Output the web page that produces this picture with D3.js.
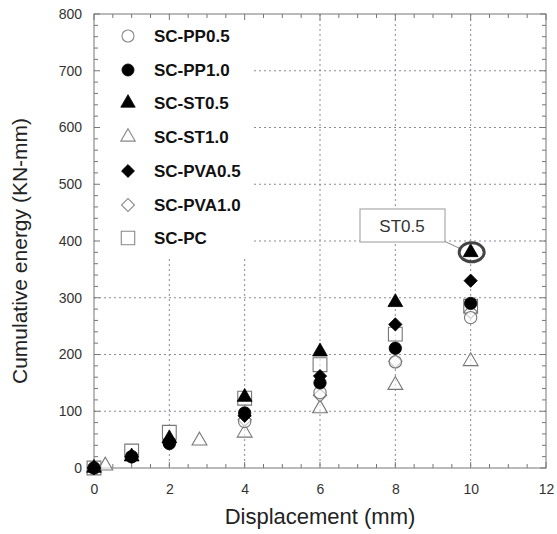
<!DOCTYPE html>
<html><head><meta charset="utf-8">
<script src="https://cdn.jsdelivr.net/npm/d3@7"></script>
<style>body{margin:0;background:#fff}svg{display:block;font-family:Arial,"Liberation Sans",sans-serif}</style>
</head><body><svg id="c" width="557" height="534"></svg>
<script>
const seriesNames = ["SC-PP0.5","SC-PP1.0","SC-ST0.5","SC-ST1.0","SC-PVA0.5","SC-PVA1.0","SC-PC"];
const dispMain = [0,1,2,4,6,8,10];
const dispST10 = [0.3,2.8,4,6,8,10];
const ppHalf   = [0,20,45,82,133,187,265];
const ppOne    = [0,20,43,97,150,211,290];
const stHalf   = [0,20,52,125,205,292,380];
const stOne    = [4,48,62,105,146,188];
const pvaHalf  = [0,20,48,92,162,253,330];
const pvaOne   = [0,20,45,85,128,188,275];
const pc       = [0,30,63,123,182,236,285];
const xTicks = [0,2,4,6,8,10,12];
const yTicks = [0,100,200,300,400,500,600,700,800];

const series = [
  {name:seriesNames[0], xs:dispMain, ys:ppHalf, shape:"circle", fill:false},
  {name:seriesNames[1], xs:dispMain, ys:ppOne, shape:"circle", fill:true},
  {name:seriesNames[2], xs:dispMain, ys:stHalf, shape:"triangle", fill:true},
  {name:seriesNames[3], xs:dispST10, ys:stOne, shape:"triangle", fill:false},
  {name:seriesNames[4], xs:dispMain, ys:pvaHalf, shape:"diamond", fill:true},
  {name:seriesNames[5], xs:dispMain, ys:pvaOne, shape:"diamond", fill:false},
  {name:seriesNames[6], xs:dispMain, ys:pc, shape:"square", fill:false}
];
const drawOrder = [6,3,5,0,4,1,2];

const svg = d3.select("#c");
const L=94, R=546, T=14, B=468;
const x = d3.scaleLinear().domain([0,12]).range([L,R]);
const y = d3.scaleLinear().domain([0,800]).range([B,T]);

const sym = {circle:d3.symbolCircle, triangle:d3.symbolTriangle, diamond:d3.symbolSquare, square:d3.symbolSquare};
const sizes = {circle:120, triangle:95, diamond:88, square:190};
function marker(g, s, scale){
  const gen = d3.symbol().type(sym[s.shape]).size(sizes[s.shape]*(scale||1));
  let p = g.append("path").attr("d", gen());
  if (s.shape==="diamond") p.attr("transform","rotate(45)");
  if (s.fill) p.attr("fill","#000").attr("stroke","#000").attr("stroke-width",0.8);
  else p.attr("fill","#fff").attr("fill-opacity",0.6).attr("stroke","#777").attr("stroke-width",1.1);
  return p;
}

const grid = svg.append("g").attr("stroke","#8a8a9a").attr("stroke-width",1).attr("stroke-dasharray","2,3");
[2,4,6,8,10].forEach(v=>grid.append("line").attr("x1",x(v)).attr("x2",x(v)).attr("y1",T).attr("y2",B));
[100,200,300,400,500,600,700].forEach(v=>grid.append("line").attr("x1",L).attr("x2",R).attr("y1",y(v)).attr("y2",y(v)));

svg.append("rect").attr("x",L+1).attr("y",T+1).attr("width",156).attr("height",242).attr("fill","#fff");

const ax = svg.append("g").attr("stroke","#777").attr("stroke-width",1);
ax.append("rect").attr("x",L).attr("y",T).attr("width",R-L).attr("height",B-T).attr("fill","none");
d3.range(0,12.01,0.5).forEach(v=>{
  const len = (v%2===0)?6:4;
  ax.append("line").attr("x1",x(v)).attr("x2",x(v)).attr("y1",B).attr("y2",B-len);
  ax.append("line").attr("x1",x(v)).attr("x2",x(v)).attr("y1",T).attr("y2",T+len);
});
d3.range(0,800.1,20).forEach(v=>{
  const len = (v%100===0)?6:4;
  ax.append("line").attr("x1",L).attr("x2",L+len).attr("y1",y(v)).attr("y2",y(v));
  ax.append("line").attr("x1",R).attr("x2",R-len).attr("y1",y(v)).attr("y2",y(v));
});

const xAxis = svg.append("g").attr("transform",`translate(0,${B})`)
  .call(d3.axisBottom(x).tickValues(xTicks).tickSize(0).tickPadding(16).tickFormat(d3.format("d")));
const yAxis = svg.append("g").attr("transform",`translate(${L},0)`)
  .call(d3.axisLeft(y).tickValues(yTicks).tickSize(0).tickPadding(12).tickFormat(d3.format("d")));
[xAxis,yAxis].forEach(a=>{a.select(".domain").remove(); a.selectAll("text").attr("font-size",14).attr("fill","#333").attr("font-family","Arial, 'Liberation Sans', sans-serif");});

svg.append("text").attr("x",320).attr("y",524).attr("text-anchor","middle").attr("font-size",22).attr("fill","#222").text("Displacement (mm)");
svg.append("text").attr("transform",`translate(27,${(T+B)/2+10}) rotate(-90)`).attr("text-anchor","middle").attr("font-size",21).attr("fill","#222").text("Cumulative energy (KN-mm)");

const pts = svg.append("g");
drawOrder.forEach(i=>{
  const s = series[i];
  s.xs.forEach((xv,j)=>{
    const g = pts.append("g").attr("transform",`translate(${x(xv)},${y(s.ys[j])})`);
    marker(g,s);
  });
});

const leg = svg.append("g");
const rowsY = [36,70,103,137,171,205,238];
series.forEach((s,i)=>{
  const g = leg.append("g").attr("transform",`translate(128,${rowsY[i]})`);
  const p = marker(g,s,0.95);
  if(!s.fill) p.attr("fill-opacity",1).attr("stroke","#888");
  leg.append("text").attr("x",154).attr("y",rowsY[i]+6).attr("font-size",17).attr("font-weight","bold").attr("fill","#111").text(s.name);
});

const ax10 = x(10), ay10 = y(stHalf[6]);
svg.append("line").attr("x1",444).attr("y1",241).attr("x2",ax10-11).attr("y2",ay10-4).attr("stroke","#888").attr("stroke-width",1);
svg.append("rect").attr("x",360).attr("y",209).attr("width",85).attr("height",33).attr("fill","#fff").attr("stroke","#aaa").attr("stroke-width",1.2);
svg.append("text").attr("x",402).attr("y",232).attr("text-anchor","middle").attr("font-size",17).attr("fill","#333").text("ST0.5");
svg.append("ellipse").attr("cx",ax10+1).attr("cy",ay10).attr("rx",12.5).attr("ry",9.5).attr("fill","none").attr("stroke","#444").attr("stroke-width",3);
</script></body></html>
